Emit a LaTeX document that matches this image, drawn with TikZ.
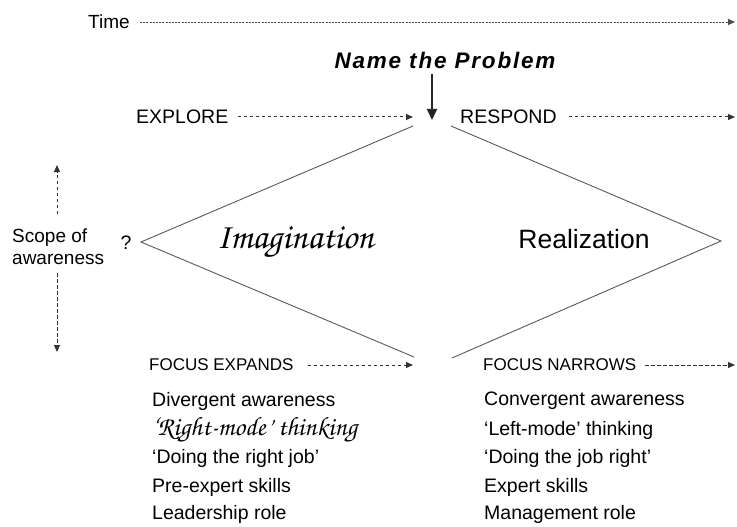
\documentclass[tikz,border=0pt]{standalone}
\usepackage[T1]{fontenc}
\usepackage{fontspec}
\setmainfont{Liberation Sans}
\newfontfamily\spacedfont[LetterSpace=8]{Liberation Sans}
\newcommand{\chancfont}{\fontencoding{T1}\fontfamily{pzc}\fontseries{mb}\fontshape{it}\selectfont}
\newcommand{\fsz}[1]{\fontsize{#1}{#1}\selectfont}
\usetikzlibrary{arrows.meta}
\tikzset{
  lbl/.style={inner sep=0pt, anchor=west, text=black},
  dotarrow/.style={draw=black!70, line width=0.9pt, dash pattern=on 2pt off 1.2pt, -{Triangle[length=7pt,width=6pt]}},
  dasharrow/.style={draw=black!80, line width=1pt, dash pattern=on 3.5pt off 2.5pt, -{Triangle[length=7pt,width=6pt]}},
  edge/.style={draw=black!65, line width=0.9pt},
}
\begin{document}
\begin{tikzpicture}[x=1pt,y=-1pt]
\useasboundingbox (0,0) rectangle (737,527);
% Time
\node[lbl, font=\fsz{19}] (time) at (88,22) {Time};
\coordinate (timeend) at (735,22);
\draw[dotarrow] (time.east) ++(10,0) -- (timeend);
% Name the problem
\node[inner sep=0pt, font=\spacedfont\bfseries\itshape\fsz{22.5}] (name) at (445,60) {Name the Problem};
\coordinate (top) at (432,120);
\draw[draw=black!85, line width=2pt, -{Triangle[length=11pt,width=10pt]}] (432,74) -- (top);
% explore / respond
\node[lbl, font=\fsz{19.5}] (explore) at (136,117) {EXPLORE};
\coordinate (exploreend) at (413,117);
\draw[dasharrow] (explore.east) ++(9,0) -- (exploreend);
\node[lbl, font=\fsz{19.5}] (respond) at (460,117) {RESPOND};
\coordinate (respondend) at (735,117);
\draw[dasharrow] (respond.east) ++(12,0) -- (respondend);
% diamond halves
\coordinate (lt) at (413,126);
\coordinate (la) at (141,242);
\coordinate (lb) at (414,357);
\coordinate (rt) at (451,126);
\coordinate (ra) at (721,241);
\coordinate (rb) at (452,358);
\draw[edge] (lt) -- (la) -- (lb);
\draw[edge] (rt) -- (ra) -- (rb);
\node[inner sep=0pt, font=\fsz{19.5}] (q) at (126,243) {?};
\node[inner sep=0pt, font=\chancfont\fsz{36}] (imag) at (295,243) {Imagination};
\node[inner sep=0pt, font=\fsz{26.5}] (real) at (584,239) {Realization};
% scope of awareness
\node[lbl, font=\fontsize{19}{22}\selectfont, align=left] (scope) at (12,247) {Scope of\\awareness};
\coordinate (sup) at (57,165);
\coordinate (sdown) at (57,352);
\draw[dasharrow] (57,214) -- (sup);
\draw[dasharrow] (57,273) -- (sdown);
% focus
\node[lbl, font=\fsz{17}] (fe) at (149,365) {FOCUS EXPANDS};
\coordinate (feend) at (413,365);
\draw[dasharrow] (fe.east) ++(14,0) -- (feend);
\node[lbl, font=\fsz{17}] (fn) at (483,365) {FOCUS NARROWS};
\coordinate (fnend) at (735,365);
\draw[dasharrow] (fn.east) ++(9,0) -- (fnend);
% lists
\node[lbl, font=\fsz{19.5}] (l1) at (152,401) {Divergent awareness};
\node[lbl, font=\chancfont\fsz{26.5}] (l2) at (151,430) {`Right-mode' thinking};
\node[lbl, font=\fsz{19.5}] (l3) at (152,458) {‘Doing the right job’};
\node[lbl, font=\fsz{19.5}] (l4) at (152,487) {Pre-expert skills};
\node[lbl, font=\fsz{19.5}] (l5) at (152,514) {Leadership role};
\node[lbl, font=\fsz{19.5}] (r1) at (484,401) {Convergent awareness};
\node[lbl, font=\fsz{19.5}] (r2) at (484,430) {‘Left-mode’ thinking};
\node[lbl, font=\fsz{19.5}] (r3) at (484,458) {‘Doing the job right’};
\node[lbl, font=\fsz{19.5}] (r4) at (484,487) {Expert skills};
\node[lbl, font=\fsz{19.5}] (r5) at (484,514) {Management role};
\end{tikzpicture}
\end{document}
